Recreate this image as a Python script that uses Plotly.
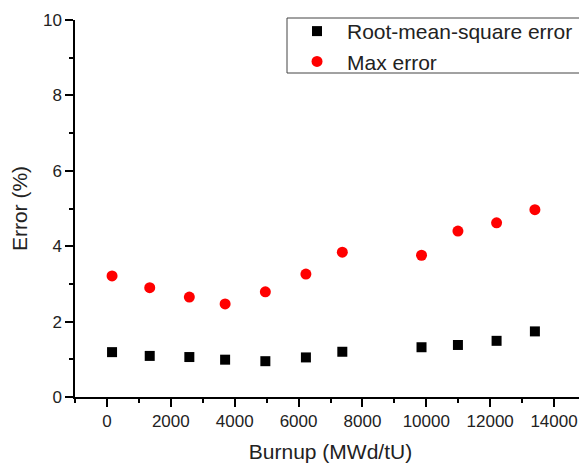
import plotly.graph_objects as go

burnup = [160, 1340, 2580, 3700, 4960, 6230, 7370, 9850, 10990, 12200, 13400]
rms_error = [1.19, 1.09, 1.06, 0.99, 0.95, 1.05, 1.20, 1.32, 1.38, 1.49, 1.74]
max_error = [3.21, 2.90, 2.65, 2.47, 2.79, 3.26, 3.84, 3.76, 4.40, 4.62, 4.97]

fig = go.Figure()
fig.add_trace(go.Scatter(x=burnup, y=rms_error, mode="markers", name="Root-mean-square error",
                         marker=dict(symbol="square", size=10, color="black")))
fig.add_trace(go.Scatter(x=burnup, y=max_error, mode="markers", name="Max error",
                         marker=dict(symbol="circle", size=11, color="#ff0000")))

font = "Liberation Sans, Arial, sans-serif"
axis_common = dict(showline=True, linecolor="black", linewidth=1.5, ticks="outside",
                   ticklen=8, tickwidth=1.5, tickcolor="black", showgrid=False, zeroline=False,
                   tickfont=dict(family=font, size=17, color="#222"),
                   mirror=False, automargin=False, tickformat="d")
fig.update_layout(
    width=579, height=456,
    margin=dict(l=67, r=1, t=12, b=67),
    plot_bgcolor="white", paper_bgcolor="white",
    font=dict(family=font, color="#222"),
    xaxis=dict(range=[-1000, 15000], tick0=0, dtick=2000,
               title=dict(text="Burnup (MWd/tU)", font=dict(family=font, size=21), standoff=14),
               minor=dict(dtick=1000, tick0=0, ticks="outside", ticklen=4, tickwidth=1.5, tickcolor="black"),
               **axis_common),
    yaxis=dict(range=[0, 10], tick0=0, dtick=2,
               title=dict(text="Error (%)", font=dict(family=font, size=21), standoff=18),
               minor=dict(dtick=1, tick0=0, ticks="outside", ticklen=4, tickwidth=1.5, tickcolor="black"),
               **axis_common),
    legend=dict(x=0.4149, y=1.024, xanchor="left", yanchor="top",
                borderwidth=0, bgcolor="rgba(0,0,0,0)",
                font=dict(family=font, size=21, color="#222"),
                tracegroupgap=0, itemwidth=50),
    showlegend=True,
)
fig.add_shape(type="rect", xref="paper", yref="paper", x0=0.4149, x1=0.998, y0=0.8594, y1=1.0053,
              line=dict(color="#444", width=1), fillcolor="white", layer="below")
fig.write_html("out.html")
